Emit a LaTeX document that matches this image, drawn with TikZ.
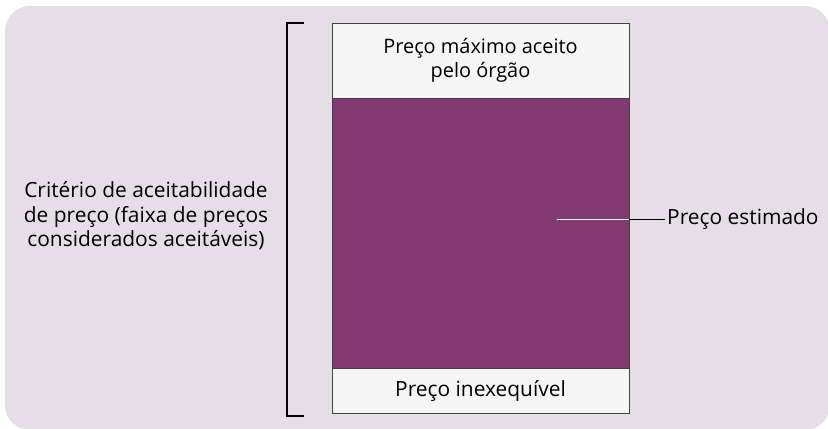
\documentclass[tikz,border=0pt]{standalone}
\usepackage{fontspec}
\setmainfont{Open Sans}
\usetikzlibrary{positioning}
\definecolor{fundo}{HTML}{E5DEE7}
\definecolor{roxo}{HTML}{833A72}
\definecolor{claro}{HTML}{F5F5F5}
\definecolor{borda}{HTML}{404040}
\tikzset{faixa/.style={draw=borda, semithick, minimum width=297bp, outer sep=0pt, align=center, font=\fontsize{21}{22}\selectfont},
  rot/.style={align=center, font=\fontsize{21}{24.5}\selectfont}}

\begin{document}
\begin{tikzpicture}[x=1bp, y=-1bp]
  \useasboundingbox (0,0) rectangle (828,428);
  \begin{scope}
    \clip (0,0) rectangle (828,428);
    \fill[fundo, rounded corners=25bp] (5,6) rectangle (830,430);
  \end{scope}
  % faixa de precos: teto, miolo, piso
  \node[faixa, fill=claro, minimum height=75bp, anchor=north west, font=\fontsize{20}{24}\selectfont] (teto) at (332,23) {Preço máximo aceito\\pelo órgão};
  \node[faixa, fill=roxo, minimum height=270bp, below=0pt of teto] (miolo) {};
  \node[faixa, fill=claro, minimum height=45bp, below=0pt of miolo] (piso) {Preço inexequível};
  % colchete do criterio
  \coordinate (ct) at (303,23);
  \coordinate (cb) at (303,416);
  \draw[line width=1.4bp, line cap=rect] (ct) -- ++(-16,0) |- (cb);
  \node[rot] (crit) at (146,216) {Critério de aceitabilidade\\de preço (faixa de preços\\considerados aceitáveis)};
  % marca do preco estimado
  \coordinate (marca) at (557,219);
  \node[rot, anchor=west, inner sep=2bp] (est) at (665,219) {Preço estimado};
  \draw[white, thick] (marca) -- (miolo.east |- marca);
  \draw[thick] (miolo.east |- marca) -- (est.west);
\end{tikzpicture}
\end{document}
